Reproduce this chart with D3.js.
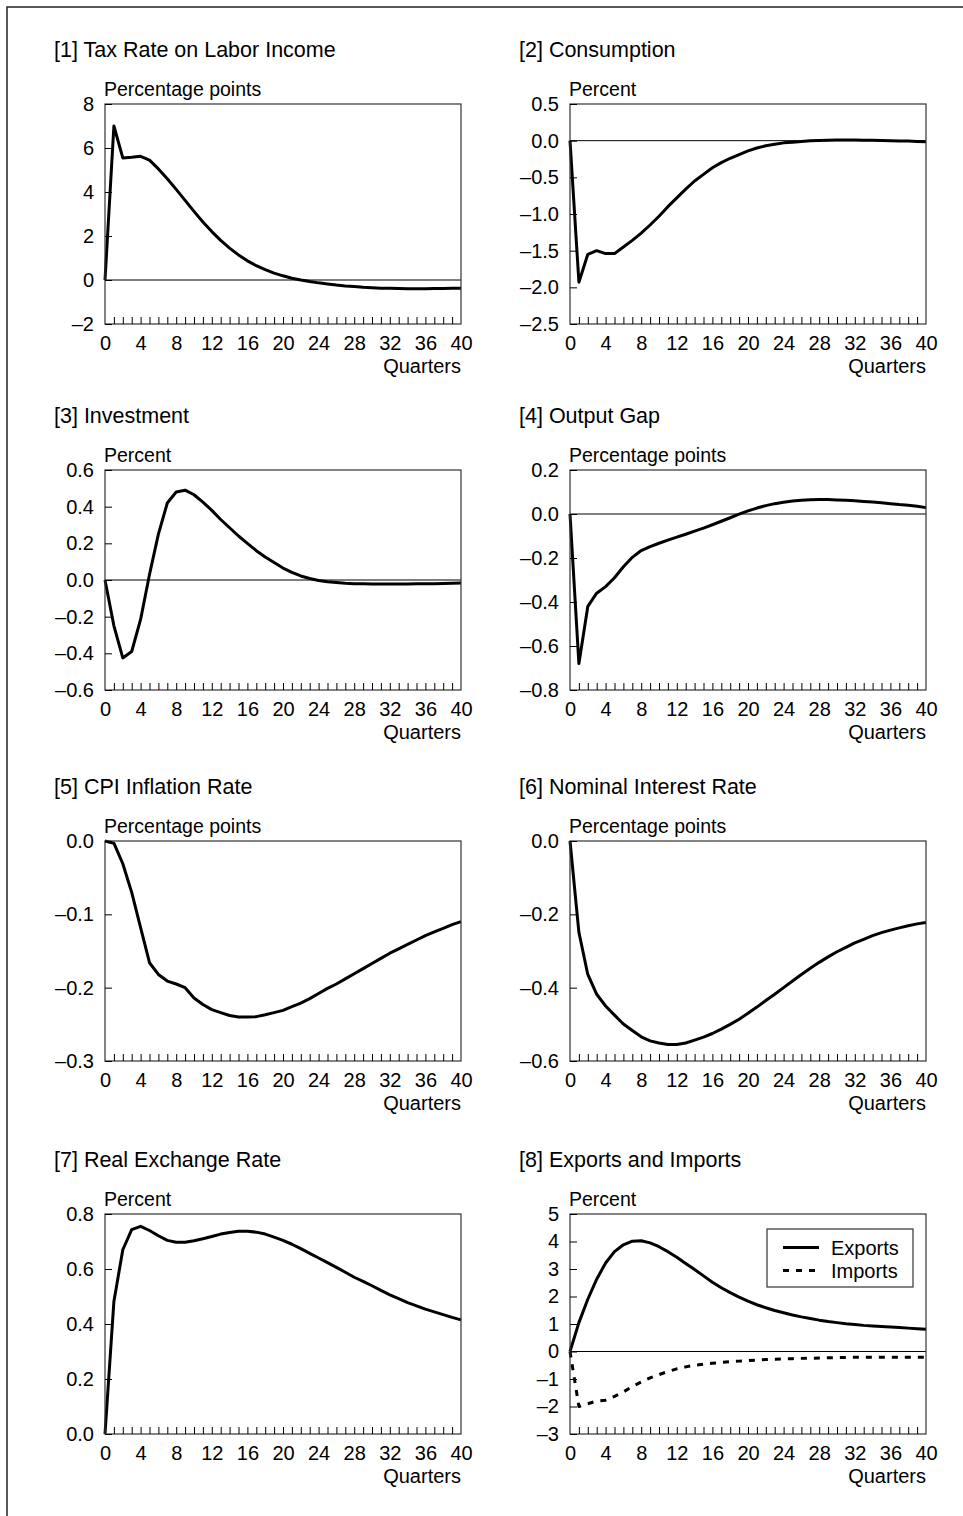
<!DOCTYPE html>
<html><head><meta charset="utf-8">
<script src="https://cdn.jsdelivr.net/npm/d3@7"></script>
<style>
body{margin:0;background:#fff}
svg{display:block}
text{font-family:"Liberation Sans",Arial,Helvetica,sans-serif;fill:#000}
</style>
</head><body>
<svg id="chart" width="963" height="1516"></svg>
<script>
// ---------- data ----------
const quarters = d3.range(0, 41);
const xTickLabels = [0, 4, 8, 12, 16, 20, 24, 28, 32, 36, 40];

const taxRate = [0, 7.0, 5.55, 5.58, 5.62, 5.45, 5.05, 4.6, 4.12, 3.62, 3.12, 2.64, 2.2, 1.8, 1.45, 1.14, 0.87, 0.65, 0.47, 0.31, 0.19, 0.08, 0.0, -0.07, -0.13, -0.18, -0.23, -0.27, -0.30, -0.33, -0.35, -0.37, -0.38, -0.39, -0.40, -0.40, -0.40, -0.39, -0.39, -0.38, -0.38];
const consumption = [0, -1.93, -1.55, -1.50, -1.54, -1.54, -1.45, -1.36, -1.26, -1.15, -1.03, -0.9, -0.78, -0.66, -0.55, -0.46, -0.37, -0.3, -0.24, -0.19, -0.14, -0.1, -0.07, -0.05, -0.03, -0.02, -0.01, 0.0, 0.003, 0.006, 0.008, 0.008, 0.008, 0.006, 0.004, 0.002, 0.0, -0.003, -0.006, -0.01, -0.015];
const investment = [0, -0.25, -0.425, -0.39, -0.215, 0.03, 0.25, 0.42, 0.48, 0.49, 0.465, 0.425, 0.38, 0.33, 0.285, 0.24, 0.2, 0.16, 0.125, 0.095, 0.065, 0.042, 0.022, 0.008, -0.003, -0.01, -0.014, -0.018, -0.02, -0.021, -0.022, -0.022, -0.022, -0.022, -0.022, -0.021, -0.021, -0.02, -0.019, -0.018, -0.017];
const outputGap = [0, -0.68, -0.42, -0.36, -0.33, -0.29, -0.24, -0.197, -0.166, -0.148, -0.133, -0.119, -0.105, -0.092, -0.078, -0.064, -0.049, -0.033, -0.017, -0.001, 0.014, 0.027, 0.038, 0.047, 0.053, 0.059, 0.063, 0.065, 0.066, 0.066, 0.064, 0.062, 0.06, 0.057, 0.054, 0.051, 0.047, 0.043, 0.04, 0.035, 0.029];
const cpiInflation = [0, -0.003, -0.031, -0.07, -0.118, -0.166, -0.182, -0.191, -0.195, -0.2, -0.214, -0.223, -0.23, -0.234, -0.238, -0.24, -0.24, -0.2395, -0.237, -0.234, -0.231, -0.226, -0.221, -0.215, -0.208, -0.201, -0.195, -0.188, -0.181, -0.174, -0.167, -0.16, -0.153, -0.147, -0.141, -0.135, -0.129, -0.124, -0.119, -0.114, -0.11];
const nominalRate = [0, -0.249, -0.364, -0.418, -0.45, -0.475, -0.499, -0.517, -0.534, -0.545, -0.551, -0.555, -0.555, -0.551, -0.543, -0.535, -0.525, -0.513, -0.5, -0.486, -0.47, -0.453, -0.435, -0.418, -0.4, -0.382, -0.364, -0.347, -0.331, -0.316, -0.302, -0.29, -0.278, -0.268, -0.258, -0.25, -0.243, -0.237, -0.231, -0.226, -0.222];
const realExchange = [0, 0.482, 0.67, 0.743, 0.755, 0.74, 0.721, 0.704, 0.697, 0.697, 0.703, 0.71, 0.718, 0.727, 0.733, 0.737, 0.737, 0.734, 0.727, 0.716, 0.704, 0.69, 0.674, 0.657, 0.64, 0.623, 0.606, 0.588, 0.57, 0.555, 0.539, 0.522, 0.506, 0.492, 0.478, 0.466, 0.454, 0.444, 0.434, 0.424, 0.415];
const exportsSeries = [0, 1.05, 1.9, 2.63, 3.22, 3.63, 3.88, 4.01, 4.03, 3.95, 3.81, 3.63, 3.43, 3.2, 2.98, 2.75, 2.52, 2.32, 2.14, 1.98, 1.83, 1.7, 1.59, 1.49, 1.41, 1.33, 1.26, 1.2, 1.14, 1.09, 1.05, 1.01, 0.98, 0.95, 0.93, 0.91, 0.89, 0.87, 0.85, 0.83, 0.81];
const importsSeries = [0, -2.0, -1.9, -1.8, -1.77, -1.63, -1.47, -1.27, -1.11, -0.96, -0.84, -0.73, -0.63, -0.56, -0.5, -0.46, -0.43, -0.4, -0.37, -0.35, -0.33, -0.31, -0.29, -0.28, -0.27, -0.26, -0.25, -0.245, -0.24, -0.23, -0.22, -0.215, -0.21, -0.21, -0.21, -0.21, -0.21, -0.21, -0.21, -0.21, -0.21];

const titles = ["[1] Tax Rate on Labor Income", "[2] Consumption", "[3] Investment", "[4] Output Gap",
                "[5] CPI Inflation Rate", "[6] Nominal Interest Rate", "[7] Real Exchange Rate", "[8] Exports and Imports"];
const units = ["Percentage points", "Percent", "Percent", "Percentage points",
               "Percentage points", "Percentage points", "Percent", "Percent"];
const yTicks = [
  [-2, 0, 2, 4, 6, 8],
  [-2.5, -2.0, -1.5, -1.0, -0.5, 0.0, 0.5],
  [-0.6, -0.4, -0.2, 0.0, 0.2, 0.4, 0.6],
  [-0.8, -0.6, -0.4, -0.2, 0.0, 0.2],
  [-0.3, -0.2, -0.1, 0.0],
  [-0.6, -0.4, -0.2, 0.0],
  [0.0, 0.2, 0.4, 0.6, 0.8],
  [-3, -2, -1, 0, 1, 2, 3, 4, 5]
];
const yDecimals = [0, 1, 1, 1, 1, 1, 1, 0];
const seriesNames = ["Exports", "Imports"];

// ---------- layout ----------
const W = 356, H = 220;
const colLeft = [105, 570];
const rowTop = [104, 470, 841, 1214];
const FONT = '"Liberation Sans",Arial,Helvetica,sans-serif';

const panels = [
  {series: [{v: taxRate}], zero: true},
  {series: [{v: consumption}], zero: true},
  {series: [{v: investment}], zero: true},
  {series: [{v: outputGap}], zero: true},
  {series: [{v: cpiInflation}], zero: false},
  {series: [{v: nominalRate}], zero: false},
  {series: [{v: realExchange}], zero: false},
  {series: [{v: exportsSeries, name: seriesNames[0]}, {v: importsSeries, name: seriesNames[1], dash: "6,7"}], zero: true, legend: true}
];

const svg = d3.select("#chart");

// page frame (top and left rules)
svg.append("path").attr("d", "M7,1516 V7 H963").attr("fill", "none").attr("stroke", "#222").attr("stroke-width", 1.5);

const fmt = dec => v => {
  const s = Math.abs(v).toFixed(dec);
  return (v < -1e-9 ? "\u2013" : "") + s;
};

panels.forEach((p, i) => {
  const left = colLeft[i % 2], top = rowTop[Math.floor(i / 2)];
  const g = svg.append("g").attr("transform", `translate(${left},${top})`);
  const ticks = yTicks[i];
  const x = d3.scaleLinear().domain([0, 40]).range([0, W]);
  const y = d3.scaleLinear().domain([d3.min(ticks), d3.max(ticks)]).range([H, 0]);

  // title & unit
  g.append("text").attr("x", -51).attr("y", -47).attr("font-size", 21.5).text(titles[i]);
  g.append("text").attr("x", -1).attr("y", -8).attr("font-size", 19.5).text(units[i]);

  // zero line
  if (p.zero) {
    g.append("line").attr("x1", 0).attr("x2", W).attr("y1", y(0)).attr("y2", y(0))
      .attr("stroke", "#000").attr("stroke-width", 1);
  }

  // series
  const line = d3.line().x((d, k) => x(quarters[k])).y(d => y(d));
  p.series.forEach(s => {
    g.append("path").datum(s.v).attr("d", line).attr("fill", "none")
      .attr("stroke", "#000").attr("stroke-width", 3)
      .attr("stroke-linejoin", "round")
      .attr("stroke-dasharray", s.dash || null);
  });

  // frame
  g.append("rect").attr("x", 0).attr("y", 0).attr("width", W).attr("height", H)
    .attr("fill", "none").attr("stroke", "#333").attr("stroke-width", 1.2);

  // y axis
  const ya = g.append("g").call(d3.axisLeft(y).tickValues(ticks).tickFormat(fmt(yDecimals[i]))
    .tickSizeInner(-7).tickSizeOuter(0).tickPadding(11));
  ya.select(".domain").remove();
  ya.selectAll("text").attr("font-size", 20).attr("font-family", FONT).attr("fill", "#000");
  ya.selectAll("line").attr("stroke", "#000");

  // x minor ticks
  const xm = g.append("g").attr("transform", `translate(0,${H})`)
    .call(d3.axisBottom(x).tickValues(d3.range(1, 40)).tickSizeInner(-7).tickSizeOuter(0).tickFormat(""));
  xm.select(".domain").remove();
  xm.selectAll("line").attr("stroke", "#000");

  // x labels
  const xa = g.append("g").attr("transform", `translate(0,${H})`)
    .call(d3.axisBottom(x).tickValues(xTickLabels).tickSize(0).tickPadding(11.5).tickFormat(d3.format("d")));
  xa.select(".domain").remove();
  xa.selectAll("text").attr("font-size", 20).attr("font-family", FONT).attr("fill", "#000");

  g.append("text").attr("x", W).attr("y", H + 49).attr("text-anchor", "end").attr("font-size", 20).text("Quarters");

  // legend
  if (p.legend) {
    const lg = g.append("g").attr("transform", `translate(${W - 13 - 146},15)`);
    lg.append("rect").attr("width", 146).attr("height", 58).attr("fill", "#fff")
      .attr("stroke", "#333").attr("stroke-width", 1.2);
    p.series.forEach((s, k) => {
      const yy = 18.5 + k * 23;
      lg.append("line").attr("x1", 16).attr("x2", 52).attr("y1", yy).attr("y2", yy)
        .attr("stroke", "#000").attr("stroke-width", 3).attr("stroke-dasharray", s.dash || null);
      lg.append("text").attr("x", 64).attr("y", yy).attr("dy", "0.35em").attr("font-size", 20).text(s.name);
    });
  }
});
</script>
</body></html>
